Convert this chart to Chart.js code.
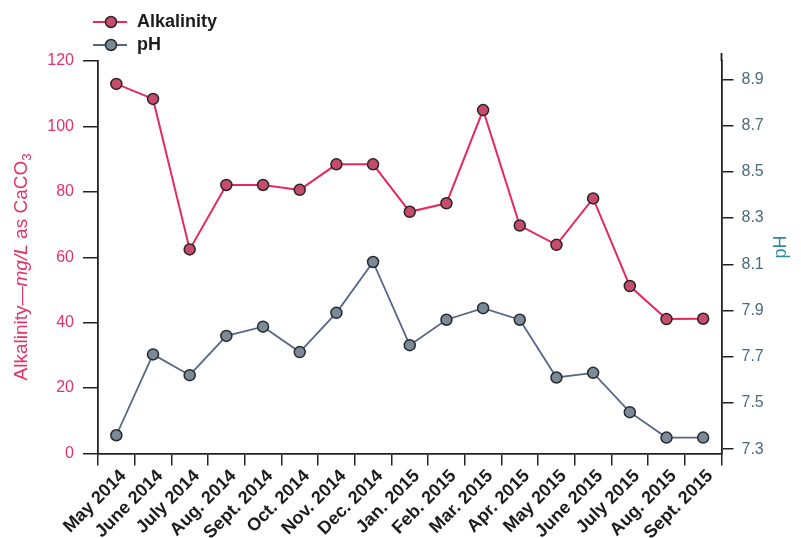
<!DOCTYPE html>
<html>
<head>
<meta charset="utf-8">
<script src="https://cdn.jsdelivr.net/npm/chart.js@4/dist/chart.umd.min.js"></script>
<style>
  html, body { margin: 0; padding: 0; background: #fff; }
  #wrap { width: 801px; height: 538px; position: relative; }
</style>
</head>
<body>
<div id="wrap"><canvas id="chart"></canvas></div>
<script>
const months = ['May 2014', 'June 2014', 'July 2014', 'Aug. 2014', 'Sept. 2014', 'Oct. 2014',
  'Nov. 2014', 'Dec. 2014', 'Jan. 2015', 'Feb. 2015', 'Mar. 2015', 'Apr. 2015',
  'May 2015', 'June 2015', 'July 2015', 'Aug. 2015', 'Sept. 2015'];
const alkalinity = [113, 108.4, 62.4, 82.1, 82.1, 80.6, 88.4, 88.4, 73.9, 76.5, 105, 69.7, 63.8, 78, 51.2, 41.1, 41.2];
const ph = [7.36, 7.71, 7.62, 7.79, 7.83, 7.72, 7.89, 8.11, 7.75, 7.86, 7.91, 7.86, 7.61, 7.63, 7.46, 7.35, 7.35];
const alkTicks = [0, 20, 40, 60, 80, 100, 120];
const phTicks = [7.3, 7.5, 7.7, 7.9, 8.1, 8.3, 8.5, 8.7, 8.9];

const FONT = '"Liberation Sans", Arial, Helvetica, sans-serif';
const PINK = '#e33268';
const PH_TEXT = '#4c6a7c';

// legend + axis titles drawn by hand (mixed italic / subscript, line+dot legend)
const decor = {
  id: 'decor',
  afterDraw(chart) {
    const ctx = chart.ctx;
    const area = chart.chartArea;
    ctx.save();

    // right axis runs a bit above the top
    ctx.strokeStyle = '#222';
    ctx.lineWidth = 1.8;
    ctx.beginPath();
    ctx.moveTo(area.right, area.top);
    ctx.lineTo(area.right, area.top - 8);
    ctx.stroke();

    // legend
    chart.data.datasets.forEach((ds, i) => {
      const y = 22 + i * 23;
      ctx.strokeStyle = ds.borderColor;
      ctx.lineWidth = 1.8;
      ctx.beginPath();
      ctx.moveTo(93, y);
      ctx.lineTo(127, y);
      ctx.stroke();
      ctx.beginPath();
      ctx.arc(111, y, 5.5, 0, Math.PI * 2);
      ctx.fillStyle = ds.pointBackgroundColor;
      ctx.fill();
      ctx.strokeStyle = ds.pointBorderColor;
      ctx.lineWidth = 1.5;
      ctx.stroke();
      ctx.fillStyle = '#1c1c1c';
      ctx.font = 'bold 18px ' + FONT;
      ctx.textBaseline = 'middle';
      ctx.textAlign = 'left';
      ctx.fillText(ds.label, 137, y);
    });

    // left title
    const parts = [
      { t: 'Alkalinity\u2014', f: '19px ' + FONT, dy: 0 },
      { t: 'mg/L', f: 'italic 19px ' + FONT, dy: 0 },
      { t: ' as CaCO', f: '19px ' + FONT, dy: 0 },
      { t: '3', f: '13px ' + FONT, dy: 5 }
    ];
    let total = 0;
    parts.forEach(p => { ctx.font = p.f; p.w = ctx.measureText(p.t).width; total += p.w; });
    ctx.translate(22, 267);
    ctx.rotate(-Math.PI / 2);
    ctx.fillStyle = PINK;
    ctx.textAlign = 'left';
    ctx.textBaseline = 'middle';
    let x = -total / 2;
    parts.forEach(p => { ctx.font = p.f; ctx.fillText(p.t, x, p.dy); x += p.w; });
    ctx.restore();

    // right title
    ctx.save();
    ctx.translate(781, 247);
    ctx.rotate(-Math.PI / 2);
    ctx.fillStyle = '#2f8a9c';
    ctx.font = '18px ' + FONT;
    ctx.textAlign = 'center';
    ctx.textBaseline = 'middle';
    ctx.fillText('pH', 0, 0);
    ctx.restore();
  }
};

new Chart(document.getElementById('chart'), {
  type: 'line',
  data: {
    labels: months,
    datasets: [{
      label: 'Alkalinity',
      data: alkalinity,
      yAxisID: 'y',
      borderColor: '#e8285c',
      borderWidth: 2,
      pointBackgroundColor: '#c64c6c',
      pointBorderColor: '#2b2426',
      pointBorderWidth: 1.5,
      pointRadius: 5.5,
      tension: 0
    }, {
      label: 'pH',
      data: ph,
      yAxisID: 'y1',
      borderColor: '#56668a',
      borderWidth: 1.8,
      pointBackgroundColor: '#7b8a97',
      pointBorderColor: '#262a2e',
      pointBorderWidth: 1.5,
      pointRadius: 5.5,
      tension: 0
    }]
  },
  options: {
    responsive: true,
    maintainAspectRatio: false,
    animation: false,
    layout: { padding: { top: 61, left: 0, right: 0, bottom: 0 } },
    plugins: { legend: { display: false }, tooltip: { enabled: false } },
    scales: {
      x: {
        offset: true,
        grid: { offset: true, drawOnChartArea: false, tickLength: 12, color: '#222', lineWidth: 1.5 },
        border: { color: '#222', width: 1.8 },
        ticks: {
          autoSkip: false, minRotation: 45, maxRotation: 45, padding: 0, labelOffset: 7,
          color: '#1c1c1c', font: { family: FONT, size: 18, weight: 'bold' }
        },
        afterFit(s) { s.height = 84.5; }
      },
      y: {
        position: 'left',
        min: 0, max: 120,
        afterBuildTicks(s) { s.ticks = alkTicks.map(v => ({ value: v })); },
        grid: { drawOnChartArea: false, tickLength: 15, color: '#222', lineWidth: 1.5 },
        border: { color: '#222', width: 1.8 },
        ticks: { padding: 9, color: PINK, font: { family: FONT, size: 16 } },
        afterFit(s) { s.width = 98; }
      },
      y1: {
        position: 'right',
        min: 7.281, max: 8.98,
        afterBuildTicks(s) { s.ticks = phTicks.map(v => ({ value: v })); },
        grid: { drawOnChartArea: false, tickLength: 12, color: '#222', lineWidth: 1.5 },
        border: { color: '#222', width: 1.8 },
        ticks: {
          padding: 8, color: PH_TEXT, font: { family: FONT, size: 16 },
          callback: v => v.toFixed(1)
        },
        afterFit(s) { s.width = 79.5; }
      }
    }
  },
  plugins: [decor]
});
</script>
</body>
</html>
